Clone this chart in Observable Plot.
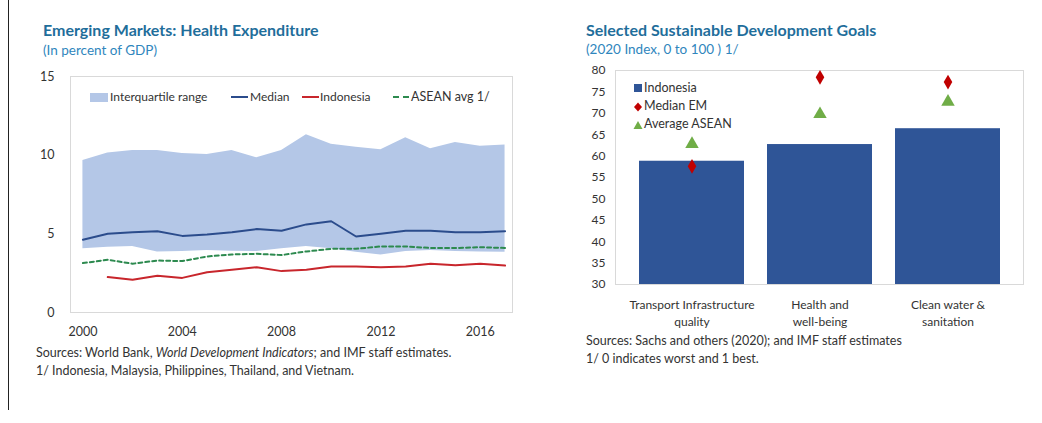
<!DOCTYPE html>
<html>
<head>
<meta charset="utf-8">
<script src="https://cdn.jsdelivr.net/npm/d3@7"></script>
<script src="https://cdn.jsdelivr.net/npm/@observablehq/plot@0.6"></script>
<style>
  html, body { margin: 0; padding: 0; background: #fff; }
  #page { position: relative; width: 1042px; height: 423px; font-family: Lato, "Open Sans", sans-serif; color: #333; overflow: hidden; }
  .abs { position: absolute; white-space: nowrap; }
  .title { font-weight: bold; font-size: 16px; color: #1f6e9b; }
  .sub { font-size: 13.5px; color: #2f86bd; }
  .cap { font-size: 12.5px; color: #333; line-height: 18px; }
  .leg { font-size: 12px; color: #333; line-height: 14px; }
  .legr { font-size: 12.5px; color: #333; line-height: 14px; }
  #vline { position: absolute; left: 8px; top: 0; width: 0; height: 410px; border-left: 1.5px solid #222; }
</style>
</head>
<body>
<div id="page">
  <div id="vline"></div>
  <div class="abs title" style="left:43px; top:20px;">Emerging Markets: Health Expenditure</div>
  <div class="abs sub" style="left:43px; top:42px;">(In percent of GDP)</div>
  <div class="abs title" style="left:586px; top:20px;">Selected Sustainable Development Goals</div>
  <div class="abs sub" style="left:586px; top:41px;">(2020 Index, 0 to 100 ) 1/</div>
  <div id="left" class="abs" style="left:0; top:0;"></div>
  <div id="right" class="abs" style="left:560px; top:0;"></div>

  <!-- left legend -->
  <div class="abs" style="left:90px; top:93px; width:18px; height:9px; background:#b4c7e7;"></div>
  <div class="abs leg" style="left:110px; top:90px;">Interquartile range</div>
  <div class="abs" style="left:231px; top:96px; width:17px; height:0; border-top:2px solid #2b4c8c;"></div>
  <div class="abs leg" style="left:250px; top:90px;">Median</div>
  <div class="abs" style="left:302px; top:96px; width:17px; height:0; border-top:2px solid #c8262c;"></div>
  <div class="abs leg" style="left:320px; top:90px;">Indonesia</div>
  <div class="abs" style="left:393px; top:96px; width:16px; height:0; border-top:2px dashed #2d8a4f;"></div>
  <div class="abs leg" style="left:411px; top:90px; font-size:12.5px;">ASEAN avg 1/</div>

  <!-- right legend -->
  <div class="abs" style="left:634px; top:84px; width:8px; height:8px; background:#2f5597;"></div>
  <div class="abs legr" style="left:644px; top:81px;">Indonesia</div>
  <svg class="abs" style="left:633px; top:102px;" width="10" height="10"><path d="M5,0.5L9,5L5,9.5L1,5Z" fill="#c00000"/></svg>
  <div class="abs legr" style="left:644px; top:99px;">Median EM</div>
  <svg class="abs" style="left:633px; top:120px;" width="10" height="10"><path d="M5,1L9.5,9L0.5,9Z" fill="#70ad47"/></svg>
  <div class="abs legr" style="left:644px; top:117px;">Average ASEAN</div>

  <div class="abs cap" style="left:36px; top:344px;">Sources: World Bank, <i>World Development Indicators</i>; and IMF staff estimates.<br>1/ Indonesia, Malaysia, Philippines, Thailand, and Vietnam.</div>
  <div class="abs cap" style="left:586px; top:332px;">Sources: Sachs and others (2020); and IMF staff estimates<br>1/ 0 indicates worst and 1 best.</div>
</div>
<script>
// ---- Left chart data (percent of GDP) ----
const years     = [2000, 2001, 2002, 2003, 2004, 2005, 2006, 2007, 2008, 2009, 2010, 2011, 2012, 2013, 2014, 2015, 2016, 2017];
const iqrLow    = [4.05, 4.15, 4.2, 3.85, 3.88, 3.94, 3.9, 3.88, 4.05, 4.2, 4.05, 3.83, 3.65, 3.88, 3.94, 3.88, 3.85, 3.83];
const iqrHigh   = [9.66, 10.13, 10.3, 10.3, 10.1, 10.04, 10.3, 9.83, 10.3, 11.3, 10.7, 10.5, 10.34, 11.1, 10.4, 10.8, 10.57, 10.65];
const median    = [4.62, 5.0, 5.1, 5.17, 4.87, 4.95, 5.1, 5.3, 5.2, 5.6, 5.8, 4.83, 5.0, 5.2, 5.2, 5.1, 5.1, 5.17];
const indonesia = [null, 2.25, 2.08, 2.33, 2.2, 2.56, 2.71, 2.88, 2.63, 2.71, 2.92, 2.92, 2.88, 2.92, 3.1, 3.0, 3.1, 2.98];
const aseanAvg  = [3.14, 3.35, 3.1, 3.3, 3.27, 3.56, 3.69, 3.73, 3.65, 3.88, 4.05, 4.05, 4.2, 4.2, 4.1, 4.1, 4.15, 4.1];
const xTicks    = [2000, 2004, 2008, 2012, 2016];
const yTicksL   = [0, 5, 10, 15];

// ---- Right chart data (2020 index) ----
const goals         = ["Transport Infrastructure\nquality", "Health and\nwell-being", "Clean water &\nsanitation"];
const indonesiaSDG  = [58.8, 62.7, 66.4];
const medianEM      = [57.6, 78.4, 77.3];
const averageASEAN  = [62.8, 69.8, 72.7];
const yTicksR       = [30, 35, 40, 45, 50, 55, 60, 65, 70, 75, 80];

const leftRows = years.map((y, i) => ({year: y, lo: iqrLow[i], hi: iqrHigh[i], med: median[i], idn: indonesia[i], asean: aseanAvg[i]}));
const rightRows = goals.map((g, i) => ({goal: g, idn: indonesiaSDG[i], med: medianEM[i], asean: averageASEAN[i]}));

const left = Plot.plot({
  width: 540, height: 345,
  marginLeft: 70, marginRight: 28, marginTop: 76, marginBottom: 33,
  style: {fontFamily: "Lato, 'Open Sans', sans-serif", fontSize: "12px", color: "#333", background: "transparent"},
  x: {domain: [1999.5, 2017.3]},
  y: {domain: [0, 15]},
  marks: [
    Plot.frame({stroke: "#d9d9d9"}),
    Plot.areaY(leftRows, {x: "year", y1: "lo", y2: "hi", fill: "#b4c7e7"}),
    Plot.lineY(leftRows, {x: "year", y: "med", stroke: "#2b4c8c", strokeWidth: 2}),
    Plot.lineY(leftRows, {x: "year", y: "idn", stroke: "#c8262c", strokeWidth: 2}),
    Plot.lineY(leftRows, {x: "year", y: "asean", stroke: "#2d8a4f", strokeWidth: 2, strokeDasharray: "4,3"}),
    Plot.axisX({ticks: xTicks, tickSize: 0, tickPadding: 15, tickFormat: d => String(d), label: null, fontSize: 12.5}),
    Plot.axisY({ticks: yTicksL, tickSize: 0, tickPadding: 16, label: null, fontSize: 12.5})
  ]
});
document.getElementById("left").appendChild(left);

const right = Plot.plot({
  width: 475, height: 330,
  marginLeft: 55, marginRight: 12, marginTop: 70, marginBottom: 46,
  style: {fontFamily: "Lato, 'Open Sans', sans-serif", fontSize: "12px", color: "#333", background: "transparent"},
  x: {domain: goals, padding: 0.18},
  y: {domain: [30, 80]},
  marks: [
    Plot.frame({stroke: "#d9d9d9"}),
    Plot.barY(rightRows, {x: "goal", y1: 30, y2: "idn", fill: "#2f5597"}),
    Plot.dot(rightRows, {x: "goal", y: "med", symbol: "diamond", fill: "#c00000", r: 4.5}),
    Plot.dot(rightRows, {x: "goal", y: "asean", symbol: "triangle", fill: "#70ad47", r: 5}),
    Plot.axisX({tickSize: 0, tickPadding: 13, label: null, fontSize: 12, lineHeight: 1.4}),
    Plot.axisY({ticks: yTicksR, tickSize: 0, tickPadding: 10, label: null, fontSize: 12})
  ]
});
document.getElementById("right").appendChild(right);
</script>
</body>
</html>
